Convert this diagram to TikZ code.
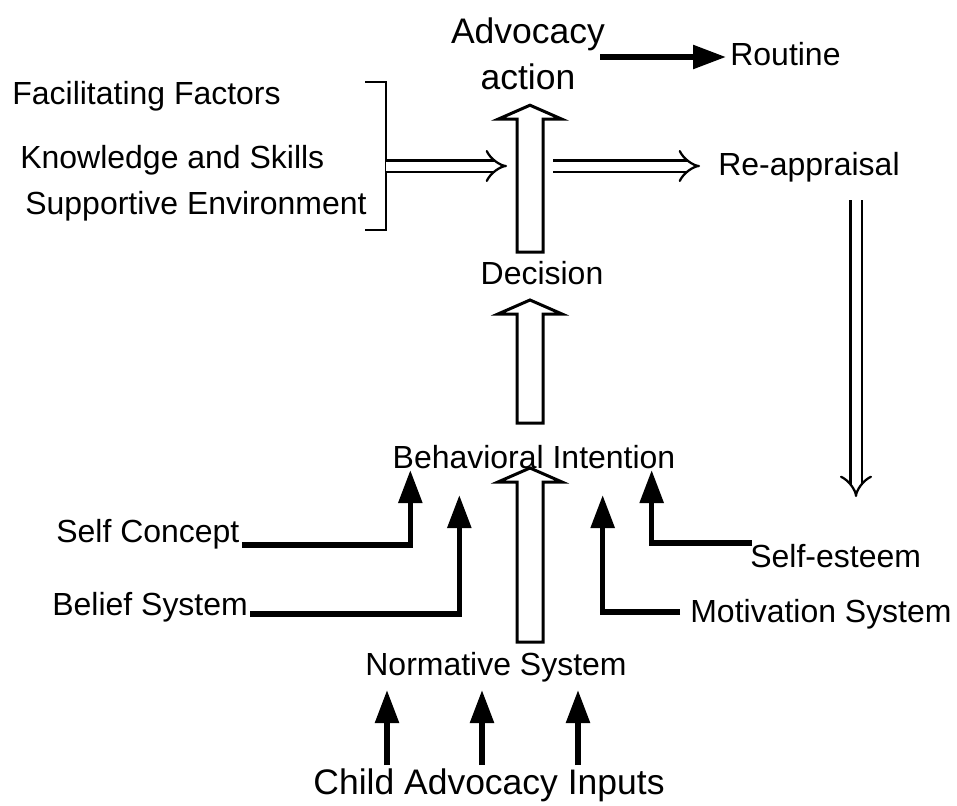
\documentclass[tikz,border=0pt]{standalone}
\usepackage{fontspec}
\setmainfont{Liberation Sans}
\usetikzlibrary{arrows.meta,calc}

% hollow block arrow pointing up, from tail #1 to tip #2
\newcommand{\hollowup}[2]{%
  \draw[hollow] ($(#1)+(-13,0)$) -- ($(#2)+(-13,14)$) -- ($(#2)+(-32,14)$)
    -- (#2) -- ($(#2)+(32,14)$) -- ($(#2)+(13,14)$) -- ($(#1)+(13,0)$) -- cycle;}

\begin{document}
\begin{tikzpicture}[
    x=0.02cm, y=-0.02cm,
    txt/.style={inner sep=0pt, font=\fontsize{18.2}{22}\selectfont},
    bigtxt/.style={inner sep=0pt, align=center, font=\fontsize{20.2}{26}\selectfont},
    blk/.style={line width=0.11cm, -{Triangle[length=0.66cm, width=0.46cm]}},
    hollow/.style={line width=0.06cm, fill=white, line join=miter},
    dbl/.style={line width=0.045cm, double, double distance=0.18cm, -{Implies}},
    brk/.style={line width=0.05cm}
  ]
    \useasboundingbox (0,0) rectangle (957,805);

    % top
    \node[bigtxt] (act) at (528,54) {Advocacy\\action};
    \node[txt, anchor=base west] (rt) at (730,65) {Routine};
    \node[txt, anchor=base west] (fac) at (12,104) {Facilitating Factors};
    \node[txt, anchor=base west] (know) at (20,168) {Knowledge and Skills};
    \node[txt, anchor=base west] (sup) at (25,214) {Supportive Environment};
    \node[txt, anchor=base west] (re) at (718,175) {Re-appraisal};
    \node[txt, anchor=base] (dec) at (542,284) {Decision};

    % middle and bottom
    \node[txt, anchor=base] (bi) at (534,468) {Behavioral Intention};
    \node[txt, anchor=base west] (sc) at (56,542) {Self Concept};
    \node[txt, anchor=base west] (se) at (750,567) {Self-esteem};
    \node[txt, anchor=base west] (bs) at (52,615) {Belief System};
    \node[txt, anchor=base west] (ms) at (690,622) {Motivation System};
    \node[txt, anchor=base] (ns) at (496,675) {Normative System};
    \node[bigtxt, anchor=base] (cai) at (489,794) {Child Advocacy Inputs};

    \coordinate (spine) at (530,0);
    \coordinate (fork) at (386,166);

    % bracket of factors
    \draw[brk] (365,82) -- (386,82) -- (386,230) -- (365,230);

    % main column
    \hollowup{$(spine |- dec.base)+(0,-32)$}{$(spine |- act.south)+(0,15)$}
    \hollowup{$(spine |- bi.base)+(0,-45)$}{$(spine |- dec.base)+(0,16)$}
    \hollowup{$(spine |- ns.base)+(0,-33)$}{spine |- bi.base}

    \draw[dbl] (fork) -- ($(spine |- fork)+(-23,0)$);
    \draw[dbl] ($(spine |- fork)+(23,0)$) -- ($(re.base west)+(-18,-9)$);
    \draw[dbl] ($(re.base west)+(138,25)$) -- ($(se.base west)+(106,-70)$);

    \draw[blk] ($(act.east)+(-5,3)$) -- ($(rt.base west)+(-4,-8)$);

    % influences on intention
    \draw[blk] ($(sc.base east)+(2,3)$) -| ($(bi.base west)+(18,2)$);
    \draw[blk] ($(bs.base east)+(2,-1)$) -| ($(bi.base west)+(67,27)$);
    \draw[blk] ($(ms.base west)+(-10,-10)$) -| ($(bi.base east)+(-73,27)$);
    \draw[blk] ($(se.base west)+(2,-24)$) -| ($(bi.base east)+(-24,2)$);

    \foreach \dx in {-102,-7,89}
      \draw[blk] ($(cai.base)+(\dx,-29)$) -- ($(ns.base)+({\dx-7},15)$);
  \end{tikzpicture}
\end{document}
